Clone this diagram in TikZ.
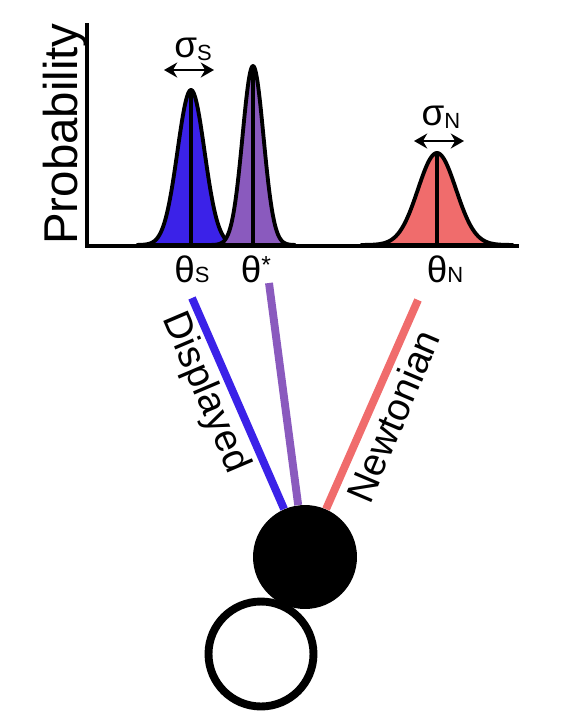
\documentclass[tikz,border=0pt]{standalone}
\usepackage{fontspec}
\setmainfont{Liberation Sans}
\usetikzlibrary{arrows.meta}
\definecolor{dispblue}{HTML}{3B22E8}
\definecolor{optpurple}{HTML}{8A5ABE}
\definecolor{newtred}{HTML}{F06C6C}
\newcommand{\smallsub}[1]{{\fontsize{12.5}{12.5}\selectfont #1}}
\begin{document}
\begin{tikzpicture}[x=0.02cm, y=-0.02cm,
    axisline/.style={line width=2.2pt},
    curve/.style={draw=black, line width=2.2pt, line join=round},
    meanline/.style={line width=1.9pt},
    sdarrow/.style={{Stealth[length=7.5pt,width=8.5pt]}-{Stealth[length=7.5pt,width=8.5pt]}, line width=1.7pt},
    lab/.style={font=\fontsize{21}{21}\selectfont, inner sep=0pt, anchor=base},
    cue/.style={line width=4.5pt},
    side/.style={font=\fontsize{22}{22}\selectfont, inner sep=0pt}
]
    \useasboundingbox (0,0) rectangle (571,721);

    % likelihoods
    \draw[curve, fill=dispblue] plot[domain=137:245, samples=120] (\x, {245-155*exp(-((\x-191)*(\x-191))/364.5)}) -- cycle;
    \draw[curve, fill=optpurple] plot[domain=211:295, samples=120] (\x, {245-179*exp(-((\x-253)*(\x-253))/220.5)}) -- cycle;
    \draw[curve, fill=newtred] plot[domain=361:513, samples=120] (\x, {245-92*exp(-((\x-437)*(\x-437))/722)}) -- cycle;
    \draw[meanline] (191,245) -- (191,90);
    \draw[meanline] (253,245) -- (253,66);
    \draw[meanline] (437,245) -- (437,153);
    \draw[axisline] (87,23) -- (87,246) -- (519,246);

    \node[inner sep=0pt, font=\fontsize{27}{27}\selectfont, rotate=90, anchor=base] (problab) at (77,134) {Probability};

    % widths
    \coordinate (sSleft) at (164,70);
    \coordinate (sSright) at (214,70);
    \coordinate (sNleft) at (414,141);
    \coordinate (sNright) at (464,141);
    \draw[sdarrow] (sSleft) -- (sSright);
    \draw[sdarrow] (sNleft) -- (sNright);
    \node[lab] (sigS) at (193,57) {σ\raisebox{-2pt}{\smallsub{S}}};
    \node[lab] (sigN) at (441,125) {σ\raisebox{-2pt}{\smallsub{N}}};

    \node[lab] (thS) at (192,282) {θ\smallsub{S}};
    \node[lab] (thStar) at (256,282) {θ\raisebox{5pt}{\fontsize{14}{14}\selectfont *}};
    \node[lab] (thN) at (445,282) {θ\smallsub{N}};

    % balls
    \node[circle, fill, inner sep=0pt, minimum size=2.08cm] (ball) at (305,557) {};
    \node[circle, draw, fill=white, line width=4.5pt, inner sep=0pt, minimum size=2.1cm] (ring) at (261,654) {};

    % cues
    \coordinate (dispTop) at (192,298);
    \coordinate (optTop) at (269,283);
    \coordinate (newtTop) at (418,300);
    \draw[cue, dispblue] (dispTop) -- (ball);
    \draw[cue, optpurple] (optTop) -- (ball);
    \draw[cue, newtred] (newtTop) -- (ball);

    \node[side, rotate=-67] (displab) at (205,393) {Displayed};
    \node[side, rotate=67] (newtlab) at (393,416) {Newtonian};
\end{tikzpicture}
\end{document}
